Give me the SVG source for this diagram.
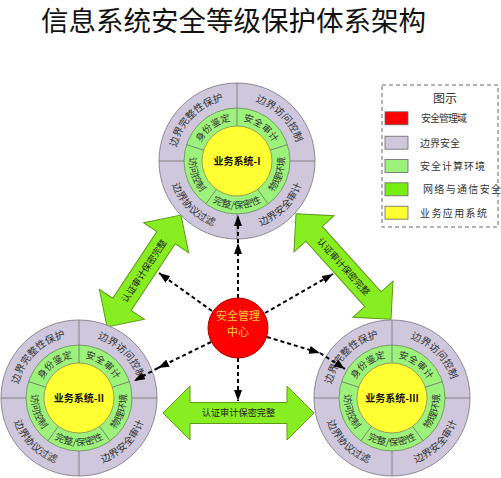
<svg xmlns="http://www.w3.org/2000/svg" xmlns:xlink="http://www.w3.org/1999/xlink" width="501" height="478" viewBox="0 0 501 478">
<style>
text{font-family:"Noto Sans CJK SC","Noto Sans",sans-serif;}
.outer{fill:#cfc8dd;stroke:#8a8896;stroke-width:1}
.mid{fill:#9cf27a;stroke:#6a8a5a;stroke-width:0.8}
.core{fill:#ffff33;stroke:#8a8a50;stroke-width:0.8}
.div{stroke:#6e6e6e;stroke-width:0.8;fill:none}
.ot{font-size:10px;fill:#333}
.gt{font-size:9.5px;fill:#333}
.ct{font-size:10px;font-weight:bold;fill:#111;text-anchor:middle}
.blk{fill:#88ee22;stroke:#5f9a18;stroke-width:1}
.bl{font-size:9.2px;fill:#222;text-anchor:middle}
.dash{stroke:#000;stroke-width:2;stroke-dasharray:4 3;fill:none;marker-end:url(#ah)}
.lg{font-size:10px;fill:#333}
.sw{stroke:#666;stroke-width:0.8}
</style>
<defs>
<marker id="ah" markerUnits="userSpaceOnUse" markerWidth="11" markerHeight="8" refX="11" refY="4" orient="auto">
<path d="M0,0 L11,4 L0,8 z" fill="#000"/>
</marker>
<path id="po_ul" d="M -62,0 A 62 62 0 0 1 0,-62"/>
<path id="po_ur" d="M 0,-62 A 62 62 0 0 1 62,0"/>
<path id="pi_ll" d="M -69,0 A 69 69 0 0 0 0,69"/>
<path id="pi_lr" d="M 0,69 A 69 69 0 0 0 69,0"/>
<path id="g1" d="M -38.42,-12.48 A 40.4 40.4 0 0 1 0,-40.4"/>
<path id="g2" d="M 0,-40.4 A 40.4 40.4 0 0 1 38.42,-12.48"/>
<path id="g3" d="M 27.98,38.51 A 47.6 47.6 0 0 0 45.27,-14.71"/>
<path id="g4" d="M -27.98,38.51 A 47.6 47.6 0 0 0 27.98,38.51"/>
<path id="g5" d="M -45.27,-14.71 A 47.6 47.6 0 0 0 -27.98,38.51"/>
<g id="rings">
<circle r="78" class="outer"/>
<circle r="53" class="mid"/>
<circle r="35" class="core"/>
<path class="div" d="M0,-53 L0,-78 M53,0 L78,0 M0,53 L0,78 M-53,0 L-78,0 M0,-35 L0,-53 M33.29,-10.82 L50.41,-16.38 M20.57,28.32 L31.15,42.88 M-20.57,28.32 L-31.15,42.88 M-33.29,-10.82 L-50.41,-16.38"/>
<text class="ot"><textPath href="#po_ul" xlink:href="#po_ul" startOffset="50%" text-anchor="middle">边界完整性保护</textPath></text>
<text class="ot"><textPath href="#po_ur" xlink:href="#po_ur" startOffset="50%" text-anchor="middle">边界访问控制</textPath></text>
<text class="ot"><textPath href="#pi_ll" xlink:href="#pi_ll" startOffset="50%" text-anchor="middle">边界协议过滤</textPath></text>
<text class="ot"><textPath href="#pi_lr" xlink:href="#pi_lr" startOffset="50%" text-anchor="middle">边界安全审计</textPath></text>
<text class="gt"><textPath href="#g1" xlink:href="#g1" startOffset="50%" text-anchor="middle">身份鉴定</textPath></text>
<text class="gt"><textPath href="#g2" xlink:href="#g2" startOffset="50%" text-anchor="middle">安全审计</textPath></text>
<text class="gt"><textPath href="#g3" xlink:href="#g3" startOffset="50%" text-anchor="middle">物理环境</textPath></text>
<text class="gt"><textPath href="#g4" xlink:href="#g4" startOffset="50%" text-anchor="middle">完整/保密性</textPath></text>
<text class="gt"><textPath href="#g5" xlink:href="#g5" startOffset="50%" text-anchor="middle">访问控制</textPath></text>
</g>
</defs>
<rect width="501" height="478" fill="#fff"/>
<text x="41" y="30.5" font-size="27.5" fill="#111">信息系统安全等级保护体系架构</text>

<g id="connectors">
<g transform="translate(238.5,413)">
<polygon class="blk" points="-75.5,0 -48.5,-27 -48.5,-10.5 48.5,-10.5 48.5,-27 75.5,0 48.5,27 48.5,10.5 -48.5,10.5 -48.5,27"/>
<text class="bl" y="3.4">认证审计保密完整</text>
</g>
<g transform="translate(144,271) rotate(-56.5)">
<polygon class="blk" points="-67,0 -40,-27 -40,-11 40,-11 40,-27 67,0 40,27 40,11 -40,11 -40,27"/>
<text class="bl" y="3.4">认证审计保密完整</text>
</g>
<g transform="translate(343.5,266.5) rotate(48)">
<polygon class="blk" points="-71,0 -44,-27 -44,-11 44,-11 44,-27 71,0 44,27 44,11 -44,11 -44,27"/>
<text class="bl" y="3.4">认证审计保密完整</text>
</g>
</g>

<g id="sys1" transform="translate(237,161)">
<use href="#rings" xlink:href="#rings"/>
<text class="ct" y="3.5">业务系统-I</text>
</g>
<g id="sys2" transform="translate(79,398)">
<use href="#rings" xlink:href="#rings"/>
<text class="ct" y="3.5">业务系统-II</text>
</g>
<g id="sys3" transform="translate(392,398)">
<use href="#rings" xlink:href="#rings"/>
<text class="ct" y="3.5">业务系统-III</text>
</g>

<g id="dashed-connectors">
<path class="dash" d="M238,298 L238,243"/>
<path class="dash" d="M238,243 L238,215"/>
<path class="dash" d="M212,311 L159,273"/>
<path class="dash" d="M265,313 L333,274"/>
<path class="dash" d="M211,342 L158,368"/>
<path class="dash" d="M158,368 L134,381"/>
<path class="dash" d="M267,337 L320,353"/>
<path class="dash" d="M320,353 L345,369"/>
<path class="dash" d="M238,358 L238,401"/>
</g>

<g id="mgmt">
<circle cx="238" cy="328" r="30" fill="#ff0000" stroke="#b00000" stroke-width="1"/>
<text x="238" y="320" font-size="11" fill="#ffcc33" text-anchor="middle">安全管理</text>
<text x="238" y="336" font-size="11" fill="#ffcc33" text-anchor="middle">中心</text>
</g>

<g id="legend">
<rect x="382" y="85" width="116" height="142" fill="none" stroke="#666" stroke-width="1" stroke-dasharray="4 3"/>
<text x="445" y="103" font-size="12" fill="#333" text-anchor="middle">图示</text>
<rect class="sw" x="385" y="111.8" width="23" height="13" fill="#ff0000"/>
<rect class="sw" x="385" y="136.2" width="23" height="13" fill="#cfc8dd"/>
<rect class="sw" x="385" y="159.5" width="23" height="13" fill="#9cf27a"/>
<rect class="sw" x="385" y="182.8" width="23" height="13" fill="#77ee11"/>
<rect class="sw" x="385" y="206.2" width="23" height="13" fill="#ffff33"/>
<text class="lg" x="421" y="122" textLength="46" lengthAdjust="spacing">安全管理域</text>
<text class="lg" x="420" y="146.5" textLength="40" lengthAdjust="spacing">边界安全</text>
<text class="lg" x="420" y="170" textLength="65" lengthAdjust="spacing">安全计算环境</text>
<text class="lg" x="423" y="193" textLength="78" lengthAdjust="spacing">网络与通信安全</text>
<text class="lg" x="420" y="216.5" textLength="67" lengthAdjust="spacing">业务应用系统</text>
</g>
</svg>
